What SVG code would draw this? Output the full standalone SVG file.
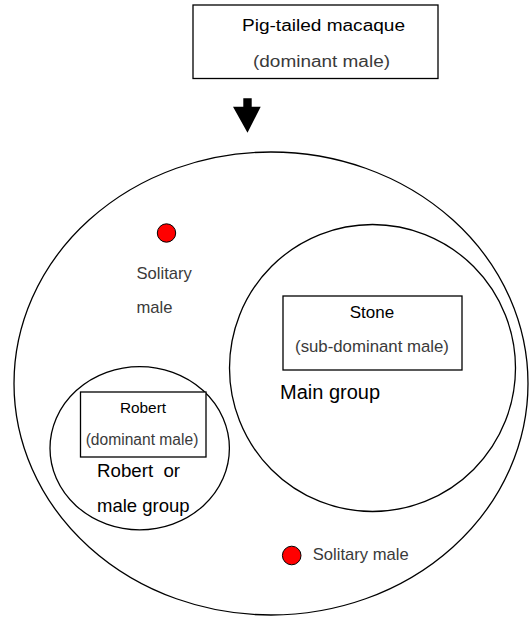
<svg xmlns="http://www.w3.org/2000/svg" width="529" height="617" viewBox="0 0 529 617">
<style>
.ln{fill:none;stroke:#000;stroke-width:1.3}
.box{fill:#fff;stroke:#000;stroke-width:1.3}
.dot{fill:#ff0000;stroke:#000;stroke-width:1}
text{font-family:"Liberation Sans",Arial,sans-serif}
.b{fill:#000}
.g{fill:#3a3a3a}
</style>
<rect width="529" height="617" fill="#fff"/>
<g id="population">
<ellipse class="ln" cx="271" cy="383.5" rx="257" ry="231.5"/>
</g>
<g id="main-group">
<ellipse class="ln" cx="372.5" cy="368" rx="143" ry="143.5"/>
<text class="b" x="280" y="399" font-size="20">Main group</text>
</g>
<g id="stone">
<rect class="box" x="283" y="296" width="179" height="74"/>
<text class="b" x="372" y="318" font-size="17" text-anchor="middle">Stone</text>
<text class="g" x="372" y="352" font-size="16.8" text-anchor="middle">(sub-dominant male)</text>
</g>
<g id="robert-group">
<ellipse class="ln" cx="139.7" cy="448.2" rx="89.7" ry="81.6"/>
<text class="b" x="97" y="477" font-size="18.7" xml:space="preserve">Robert  or</text>
<text class="b" x="97" y="512" font-size="18.5">male group</text>
</g>
<g id="robert">
<rect class="box" x="80.5" y="392" width="125.5" height="65"/>
<text class="b" x="143" y="412.5" font-size="15.4" text-anchor="middle">Robert</text>
<text class="g" x="142" y="444.5" font-size="15.6" text-anchor="middle">(dominant male)</text>
</g>
<g id="solitary-1">
<circle class="dot" cx="166.5" cy="233" r="9.2"/>
<text class="g" x="136.5" y="278.5" font-size="16.6">Solitary</text>
<text class="g" x="136.5" y="313" font-size="16.6">male</text>
</g>
<g id="solitary-2">
<circle class="dot" cx="291.7" cy="555.5" r="9.3"/>
<text class="g" x="312.8" y="560" font-size="16.6">Solitary male</text>
</g>
<g id="macaque">
<rect class="box" x="193" y="5" width="245" height="73.5"/>
<text class="b" x="323.5" y="31" font-size="16" text-anchor="middle" textLength="163" lengthAdjust="spacingAndGlyphs">Pig-tailed macaque</text>
<text class="g" x="321.5" y="67" font-size="16" text-anchor="middle" textLength="137" lengthAdjust="spacingAndGlyphs">(dominant male)</text>
</g>
<g id="connectors">
<polygon points="243.3,98.3 251.7,98.3 251.7,106.7 260.7,106.7 247.5,132.7 233,106.7 243.3,106.7" fill="#000"/>
</g>
</svg>
